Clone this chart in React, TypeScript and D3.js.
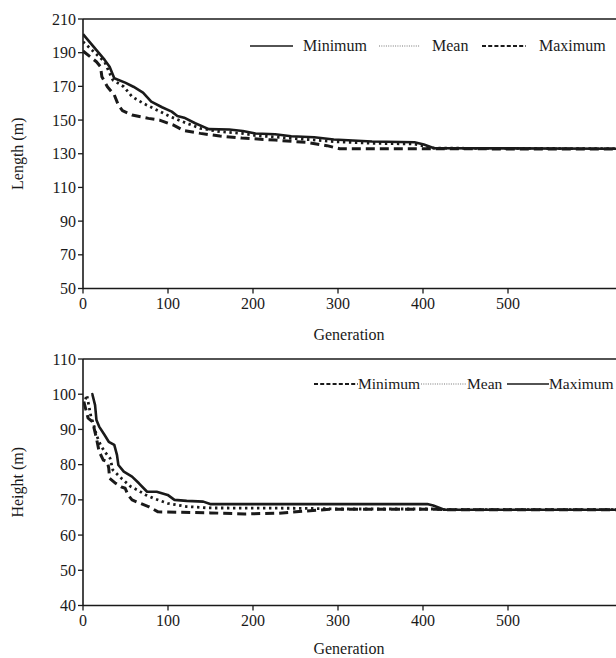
import React from "react";
import * as d3 from "d3";

// ---------- data: top chart (Length) ----------
const lenMinGen = [0, 25.5, 31.3, 36.8, 49.6, 59.3, 70.6, 80.3, 93, 104.4, 111, 119, 132, 148, 172, 188, 203, 226, 245, 272, 295, 340, 390, 401, 413, 630];
const lenMinVal = [201, 185.7, 181.7, 174.8, 172.2, 169.8, 166.3, 160.9, 157.6, 155, 152.4, 151.4, 148.1, 144.6, 144.4, 143.5, 142, 141.6, 140.4, 139.8, 138.5, 137.3, 136.8, 135.5, 133.3, 133];
const lenMeanGen = [0, 25.4, 31.3, 35.1, 48, 57.7, 70.6, 86.7, 102.8, 122, 138, 161, 187, 203, 245, 295, 340, 390, 413, 630];
const lenMeanVal = [196.5, 184.6, 177.8, 173.8, 169.8, 163.9, 160, 156, 152, 148.1, 145.1, 143.1, 142.1, 140.8, 139.2, 137.2, 136.2, 135.8, 133.3, 133];
const lenMaxGen = [0, 15.8, 20.6, 22.2, 28.7, 36.8, 41.6, 46.4, 57.7, 77, 90, 106, 119, 138, 161, 187, 226, 264, 287, 302, 630];
const lenMaxVal = [191, 184.6, 181.7, 175.7, 169.8, 164.9, 158.9, 155.6, 153, 151, 150, 147.1, 143.7, 142.1, 140.5, 139.3, 138.1, 136.7, 134.8, 133, 132.8];

// ---------- data: bottom chart (Height) ----------
const hMinGen = [1, 3, 6, 11, 12.6, 15.8, 19, 23.9, 28.7, 30.3, 31.3, 38.4, 44.8, 49.6, 52.9, 57.7, 67.4, 77, 88.3, 150, 190, 230, 260, 290, 415, 425, 630];
const hMinVal = [97.9, 96, 93.2, 92.2, 90.8, 87.5, 83.7, 81.3, 80.8, 79, 76.1, 74.7, 73.7, 73.3, 71.4, 70, 69, 68.1, 66.6, 66.3, 66, 66.2, 66.8, 67.3, 67.3, 67.2, 67.2];
const hMeanGen = [3, 4.5, 9.4, 12.6, 15.8, 20.6, 25.4, 31.9, 35.1, 44.8, 56, 64, 73.8, 83.5, 99.6, 122, 148, 260, 300, 415, 425, 630];
const hMeanVal = [98.5, 99.8, 93.6, 91.3, 88.4, 85.6, 83.7, 81.8, 78.5, 76.2, 73.8, 72.8, 71.4, 70.4, 69, 68.1, 67.7, 67.6, 67.4, 67.4, 67.2, 67.2];
const hMaxGen = [10, 11, 14.2, 15.8, 19, 25.4, 30.3, 36.8, 40, 41.6, 48, 57.7, 65.8, 75.4, 86.7, 99.6, 107.6, 122, 141.5, 149.6, 405, 412, 425, 630];
const hMaxVal = [99.9, 100, 96.9, 92.7, 90.8, 88.4, 86.5, 85.6, 82.7, 79.9, 78, 76.6, 74.7, 72.3, 72.3, 71.4, 70, 69.7, 69.5, 68.8, 68.8, 68.4, 67.2, 67.2];

// ---------- ticks ----------
const xTicks = [0, 100, 200, 300, 400, 500];
const lenTicks = [50, 70, 90, 110, 130, 150, 170, 190, 210];
const hTicks = [40, 50, 60, 70, 80, 90, 100, 110];

const W = 616;
const H = 658;
const FONT = "'Liberation Serif', 'Times New Roman', serif";
const INK = "#1a1a1a";

const SOLID = { dash: undefined as string | undefined, width: 2.6 };
const DOT = { dash: "2.4,3.6", width: 2.8 };
const DASH = { dash: "9,5", width: 3 };

type Panel = {
  id: string;
  top: number;
  bottom: number;
  titleOffset: number;
  yDomain: [number, number];
  yTicks: number[];
  yLabel: string;
  series: { gen: number[]; val: number[]; style: { dash?: string; width: number } }[];
};

function PanelChart({ p }: { p: Panel }) {
  const left = 83;
  const x = d3.scaleLinear().domain([0, 500]).range([left, 508]);
  const y = d3.scaleLinear().domain(p.yDomain).range([p.bottom, p.top]);
  const line = d3
    .line<[number, number]>()
    .x((d) => x(d[0]))
    .y((d) => y(d[1]));
  return (
    <g>
      <defs>
        <clipPath id={`clip-${p.id}`}>
          <rect x={left} y={p.top} width={W - left} height={p.bottom - p.top} />
        </clipPath>
      </defs>
      <g clipPath={`url(#clip-${p.id})`}>
        {p.series.map((s, i) => (
          <path
            key={i}
            d={line(s.gen.map((g, j) => [g, s.val[j]] as [number, number])) || ""}
            fill="none"
            stroke={INK}
            strokeWidth={s.style.width}
            strokeDasharray={s.style.dash}
            strokeLinejoin="round"
          />
        ))}
      </g>
      {/* axes */}
      <line x1={left} x2={W} y1={p.top} y2={p.top} stroke={INK} strokeWidth={1.6} />
      <line x1={left} x2={W} y1={p.bottom} y2={p.bottom} stroke={INK} strokeWidth={1.6} />
      <line x1={left} x2={left} y1={p.top} y2={p.bottom} stroke={INK} strokeWidth={1.6} />
      {p.yTicks.map((t) => (
        <g key={t}>
          <line x1={left - 5} x2={left} y1={y(t)} y2={y(t)} stroke={INK} strokeWidth={1.3} />
          <text x={76} y={y(t)} dy="0.35em" textAnchor="end" fontSize={16} fontFamily={FONT} fill={INK}>
            {t}
          </text>
        </g>
      ))}
      {xTicks.map((t) => (
        <g key={t}>
          <line x1={x(t)} x2={x(t)} y1={p.bottom} y2={p.bottom + 5} stroke={INK} strokeWidth={1.3} />
          <text x={x(t)} y={p.bottom + 20} textAnchor="middle" fontSize={16} fontFamily={FONT} fill={INK}>
            {t}
          </text>
        </g>
      ))}
      <text x={349} y={p.bottom + p.titleOffset} textAnchor="middle" fontSize={16} fontFamily={FONT} fill={INK}>
        Generation
      </text>
      <text
        transform={`translate(23,${(p.top + p.bottom) / 2}) rotate(-90)`}
        textAnchor="middle"
        fontSize={16}
        fontFamily={FONT}
        fill={INK}
      >
        {p.yLabel}
      </text>
    </g>
  );
}

function LegendLine({ x1, x2, y, kind }: { x1: number; x2: number; y: number; kind: "solid" | "dot" | "dash" }) {
  if (kind === "solid") return <line x1={x1} x2={x2} y1={y} y2={y} stroke={INK} strokeWidth={1.6} />;
  if (kind === "dot")
    return <line x1={x1} x2={x2} y1={y} y2={y} stroke="#777" strokeWidth={1.2} strokeDasharray="1,1.3" />;
  return <line x1={x1} x2={x2} y1={y} y2={y} stroke={INK} strokeWidth={1.8} strokeDasharray="4,2.2" />;
}

export default function App() {
  const top: Panel = {
    id: "len",
    top: 19,
    bottom: 288.5,
    titleOffset: 51,
    yDomain: [50, 210],
    yTicks: lenTicks,
    yLabel: "Length (m)",
    series: [
      { gen: lenMaxGen, val: lenMaxVal, style: DASH },
      { gen: lenMeanGen, val: lenMeanVal, style: DOT },
      { gen: lenMinGen, val: lenMinVal, style: SOLID },
    ],
  };
  const bottom: Panel = {
    id: "h",
    top: 359,
    bottom: 605.5,
    titleOffset: 48,
    yDomain: [40, 110],
    yTicks: hTicks,
    yLabel: "Height (m)",
    series: [
      { gen: hMinGen, val: hMinVal, style: DASH },
      { gen: hMeanGen, val: hMeanVal, style: DOT },
      { gen: hMaxGen, val: hMaxVal, style: SOLID },
    ],
  };
  const ly1 = 46;
  const ly2 = 384;
  const fs2 = 15.5;
  return (
    <svg
      width={W}
      height={H}
      viewBox={`0 0 ${W} ${H}`}
      style={{ position: "absolute", left: 0, top: 0, background: "#fff" }}
    >
      <rect width={W} height={H} fill="#fff" />
      <PanelChart p={top} />
      <PanelChart p={bottom} />
      {/* top legend */}
      <LegendLine x1={250} x2={293} y={ly1} kind="solid" />
      <text x={303} y={ly1} dy="0.33em" fontSize={16} fontFamily={FONT} fill={INK}>Minimum</text>
      <LegendLine x1={379} x2={420} y={ly1} kind="dot" />
      <text x={432} y={ly1} dy="0.33em" fontSize={16} fontFamily={FONT} fill={INK}>Mean</text>
      <LegendLine x1={482} x2={526} y={ly1} kind="dash" />
      <text x={539} y={ly1} dy="0.33em" fontSize={16} fontFamily={FONT} fill={INK}>Maximum</text>
      {/* bottom legend */}
      <LegendLine x1={314} x2={358} y={ly2} kind="dash" />
      <text x={358} y={ly2} dy="0.33em" fontSize={fs2} fontFamily={FONT} fill={INK}>Minimum</text>
      <LegendLine x1={421} x2={467} y={ly2} kind="dot" />
      <text x={467} y={ly2} dy="0.33em" fontSize={fs2} fontFamily={FONT} fill={INK}>Mean</text>
      <LegendLine x1={507} x2={549} y={ly2} kind="solid" />
      <text x={549} y={ly2} dy="0.33em" fontSize={fs2} fontFamily={FONT} fill={INK}>Maximum</text>
    </svg>
  );
}
